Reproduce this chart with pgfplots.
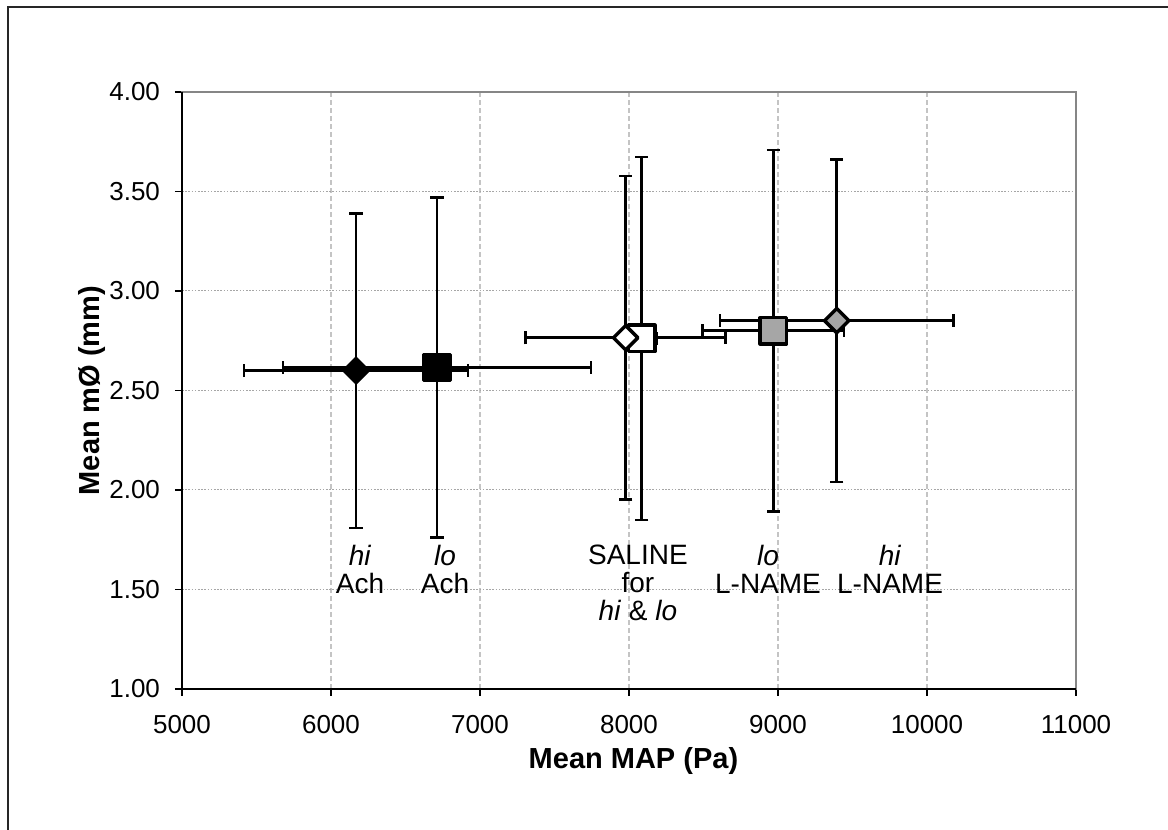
\documentclass[border=0pt]{standalone}
\usepackage{pgfplots}
\pgfplotsset{compat=1.18}
\usepackage{pgfplotstable}
\usepackage{fontspec}
\setmainfont{Liberation Sans}
\definecolor{markgray}{HTML}{A6A6A6}
\definecolor{gridgray}{HTML}{C4C4C4}
\definecolor{axgray}{HTML}{868686}

\pgfplotstableread{
x y ex ey
6168 2.600 752 0.79
}\hiAch
\pgfplotstableread{
x y ex ey
6711 2.615 1034 0.855
}\loAch
\pgfplotstableread{
x y ex ey
8085 2.762 100 0.912
}\salLo
\pgfplotstableread{
x y ex ey
7978 2.765 671 0.812
}\salHi
\pgfplotstableread{
x y ex ey
8969 2.800 474 0.908
}\loLN
\pgfplotstableread{
x y ex ey
9394 2.851 783 0.81
}\hiLN

\newcommand{\tickfont}{\fontsize{13}{14}\selectfont}
\newcommand{\lblfont}{\fontsize{14.5}{16}\selectfont}
\newcommand{\annfont}{\fontsize{14}{14}\selectfont}

\begin{document}
\begin{tikzpicture}
\path[use as bounding box] (-91pt,-70.5pt) rectangle (493pt,344.5pt);
\draw[line width=1pt, black!85] (-87pt,-80pt) -- (-87pt,341pt) -- (500pt,341pt);
\begin{axis}[
 scale only axis, width=447pt, height=298.5pt,
 xmin=5000, xmax=11000, ymin=1, ymax=4,
 xtick={5000,6000,...,11000}, ytick={1,1.5,...,4},
 grid=major,
 major x grid style={gridgray, line width=0.8pt, dash pattern=on 2.5pt off 1.5pt},
 major y grid style={black!35, line width=0.5pt, dash pattern=on 0.8pt off 0.8pt},
 axis line style={axgray, line width=1pt},
 tick align=outside, xtick pos=bottom, ytick pos=left, major tick length=3.5pt,
 tick style={black, line width=0.6pt},
 scaled x ticks=false,
 /pgf/number format/assume math mode=true,
 xticklabel style={/pgf/number format/1000 sep={}, yshift=-6pt},
 yticklabel style={/pgf/number format/.cd, fixed, fixed zerofill, precision=2, /tikz/xshift=-4pt},
 tick label style={font=\tickfont},
 xlabel={Mean MAP (Pa)}, ylabel={Mean mØ (mm)},
 label style={font=\bfseries\lblfont},
 xlabel style={at={(axis description cs:0.505,-0.12)}, anchor=center},
 ylabel style={at={(axis description cs:-0.1007,0.5)}, anchor=center},
 clip=false,
 errb/.style={only marks, mark=none, black,
   error bars/.cd, x dir=both, x explicit, y dir=both, y explicit,
   error bar style={line width=1.3pt, black},
   error mark options={rotate=90, black, line width=1.3pt, mark size=3.3pt}},
]
% error bars first
\addplot[errb] table[x=x,y=y,x error=ex,y error=ey] {\hiAch};
\addplot[errb] table[x=x,y=y,x error=ex,y error=ey] {\loAch};
\addplot[errb] table[x=x,y=y,x error=ex,y error=ey] {\salLo};
\addplot[errb] table[x=x,y=y,x error=ex,y error=ey] {\salHi};
\addplot[errb] table[x=x,y=y,x error=ex,y error=ey] {\loLN};
\addplot[errb] table[x=x,y=y,x error=ex,y error=ey] {\hiLN};
% markers on top
\addplot[only marks, mark=square*, mark size=4.6pt, mark options={rotate=45, fill=black, draw=black, line width=1pt, line join=round}] table[x=x,y=y] {\hiAch};
\addplot[only marks, mark=square*, mark size=6.6pt, mark options={fill=black, draw=black, line width=1.5pt, line join=round}] table[x=x,y=y] {\loAch};
\addplot[only marks, mark=square*, mark size=6.6pt, mark options={fill=white, draw=black, line width=1.7pt, line join=round}] table[x=x,y=y] {\salLo};
\addplot[only marks, mark=square*, mark size=4.3pt, mark options={rotate=45, fill=white, draw=black, line width=1.7pt, line join=round}] table[x=x,y=y] {\salHi};
\addplot[only marks, mark=square*, mark size=6.6pt, mark options={fill=markgray, draw=black, line width=1.7pt, line join=round}] table[x=x,y=y] {\loLN};
\addplot[only marks, mark=square*, mark size=4.3pt, mark options={rotate=45, fill=markgray, draw=black, line width=1.7pt, line join=round}] table[x=x,y=y] {\hiLN};

\draw[black, line width=1pt] (rel axis cs:0,1) -- (rel axis cs:0,0) -- (rel axis cs:1,0);

\begin{scope}[every node/.style={font=\annfont, align=center, anchor=north, inner sep=0pt}]
\node at (axis cs:6195,1.725) {\textit{hi}\\Ach};
\node at (axis cs:6765,1.725) {\textit{lo}\\Ach};
\node at (axis cs:8060,1.725) {SALINE\\for\\\textit{hi} \& \textit{lo}};
\node at (axis cs:8933,1.725) {\textit{lo}\\L-NAME};
\node at (axis cs:9752,1.725) {\textit{hi}\\L-NAME};
\end{scope}
\end{axis}
\end{tikzpicture}
\end{document}
